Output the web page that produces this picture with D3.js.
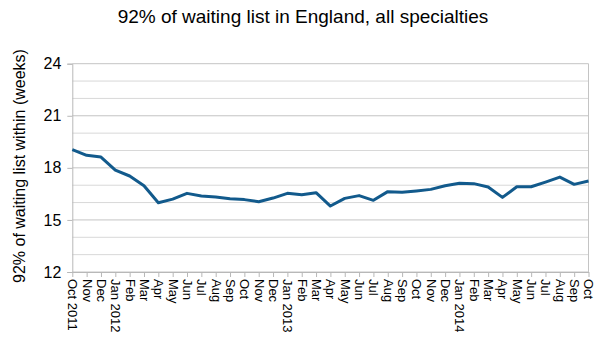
<!DOCTYPE html>
<html>
<head>
<meta charset="utf-8">
<script src="https://cdn.jsdelivr.net/npm/d3@7"></script>
<style>
  body { margin: 0; background: #fff; }
  svg text { font-family: "Liberation Sans", Arial, sans-serif; fill: #000; }
</style>
</head>
<body>
<svg id="chart" width="602" height="352"></svg>
<script>
const months = ["Oct 2011", "Nov", "Dec", "Jan 2012", "Feb", "Mar", "Apr", "May", "Jun", "Jul", "Aug", "Sep",
  "Oct", "Nov", "Dec", "Jan 2013", "Feb", "Mar", "Apr", "May", "Jun", "Jul", "Aug", "Sep",
  "Oct", "Nov", "Dec", "Jan 2014", "Feb", "Mar", "Apr", "May", "Jun", "Jul", "Aug", "Sep", "Oct"];
const weeks = [19.05, 18.72, 18.62, 17.87, 17.53, 16.97, 15.99, 16.20, 16.53, 16.38, 16.32, 16.22,
  16.17, 16.05, 16.26, 16.53, 16.45, 16.57, 15.80, 16.24, 16.40, 16.13, 16.63, 16.59,
  16.67, 16.76, 16.97, 17.11, 17.09, 16.90, 16.30, 16.91, 16.91, 17.18, 17.47, 17.05, 17.24];
const yTicks = [12, 15, 18, 21, 24];
const yGrid = d3.range(12, 25, 1);

const svg = d3.select("#chart");
const margin = {left: 72.3, right: 13.5, top: 63.7, bottom: 80};
const W = 602, H = 352;

const x = d3.scalePoint()
  .domain(d3.range(months.length))
  .range([margin.left, W - margin.right]);
const y = d3.scaleLinear().domain([12, 24]).range([272, margin.top]);

// title
svg.append("text")
  .attr("x", 303).attr("y", 23)
  .attr("text-anchor", "middle")
  .style("font-size", "19px")
  .text("92% of waiting list in England, all specialties");

// gridlines
svg.append("g")
  .selectAll("line")
  .data(yGrid)
  .join("line")
  .attr("x1", margin.left).attr("x2", W - margin.right)
  .attr("y1", d => y(d)).attr("y2", d => y(d))
  .attr("stroke", d => yTicks.includes(d) ? "#c4c4c4" : "#d8d8d8")
  .attr("stroke-width", 1);

// right border
svg.append("line")
  .attr("x1", W - margin.right).attr("x2", W - margin.right)
  .attr("y1", y(24)).attr("y2", y(12))
  .attr("stroke", "#c4c4c4");

// y axis
const yAxis = svg.append("g")
  .attr("transform", `translate(${margin.left},0)`)
  .call(d3.axisLeft(y).tickValues(yTicks).tickSize(5).tickPadding(6));
yAxis.select(".domain").attr("stroke", "#b8b8b8");
yAxis.selectAll(".tick line").attr("stroke", "#b8b8b8");
yAxis.selectAll(".tick text").style("font-size", "16px");

// x axis
const xAxis = svg.append("g")
  .attr("transform", `translate(0,${y(12)})`)
  .call(d3.axisBottom(x).tickFormat(i => months[i]).tickSize(5).tickSizeOuter(0));
xAxis.select(".domain").attr("stroke", "#b8b8b8");
xAxis.selectAll(".tick line").attr("stroke", "#b8b8b8");
xAxis.selectAll(".tick text")
  .style("font-size", "13px")
  .attr("text-anchor", "start")
  .attr("transform", "rotate(90)")
  .attr("x", 7).attr("y", 0).attr("dy", "0.35em");

// y label
svg.append("text")
  .attr("transform", `translate(25,166) rotate(-90)`)
  .attr("text-anchor", "middle")
  .style("font-size", "16px")
  .text("92% of waiting list within (weeks)");

// line
svg.append("path")
  .datum(weeks)
  .attr("fill", "none")
  .attr("stroke", "#125a8c")
  .attr("stroke-width", 3)
  .attr("stroke-linejoin", "round")
  .attr("d", d3.line().x((d, i) => x(i)).y(d => y(d)));
</script>
</body>
</html>
